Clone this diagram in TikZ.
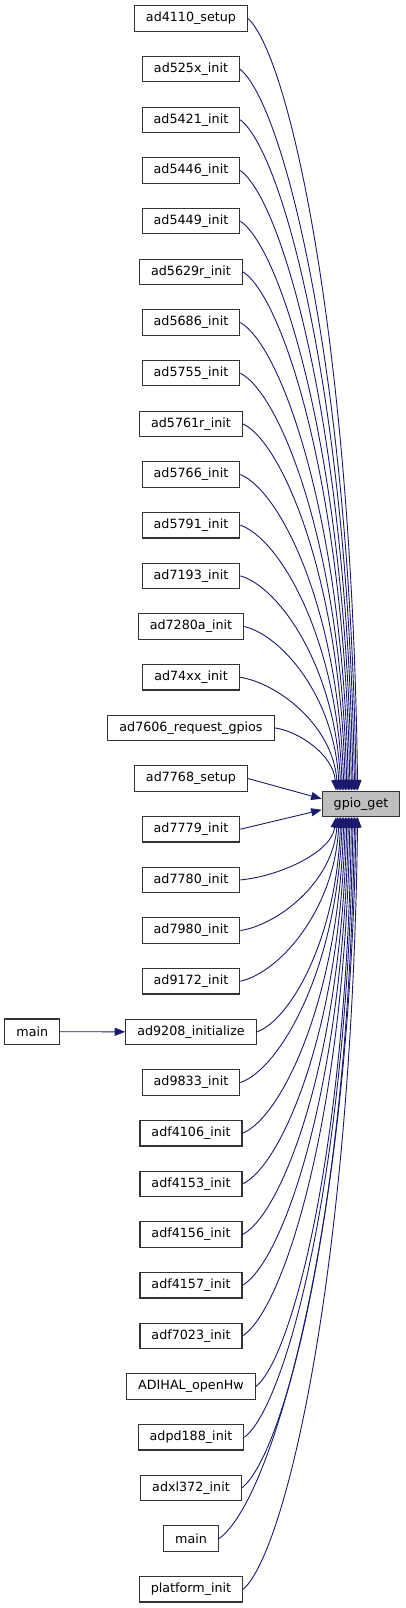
\documentclass[tikz,border=0pt]{standalone}
\usepackage{fontspec}
\setmainfont{DejaVu Sans}
\usetikzlibrary{arrows.meta,calc}
\definecolor{edgeblue}{HTML}{191970}
\definecolor{hl}{HTML}{BFBFBF}
\begin{document}
\begin{tikzpicture}[x=1pt,y=-1pt,
  fn/.style={draw=black!80, line width=1.1pt, fill=white, minimum height=25.5pt,
    inner xsep=11.5pt, inner ysep=0pt, font=\fontsize{12.7}{15}\selectfont},
  edge/.style={draw=edgeblue, line width=0.9pt, -{Triangle[length=10.5pt,width=8pt]}}]
\useasboundingbox (0,0) rectangle (405,1608);
\foreach \i/\t in {0/ad4110\_setup,1/ad525x\_init,2/ad5421\_init,3/ad5446\_init,
  4/ad5449\_init,5/ad5629r\_init,6/ad5686\_init,7/ad5755\_init,8/ad5761r\_init,
  9/ad5766\_init,10/ad5791\_init,11/ad7193\_init,12/ad7280a\_init,13/ad74xx\_init,
  14/ad7606\_request\_gpios,15/ad7768\_setup,16/ad7779\_init,17/ad7780\_init,
  18/ad7980\_init,19/ad9172\_init,20/ad9208\_initialize,21/ad9833\_init,
  22/adf4106\_init,23/adf4153\_init,24/adf4156\_init,25/adf4157\_init,
  26/adf7023\_init,27/ADIHAL\_openHw,28/adpd188\_init,29/adxl372\_init,
  30/main,31/platform\_init}
  \node[fn] (n\i) at (191,{18.5+\i*50.67}) {\t};
\node[fn, fill=hl] (g) at (361,803.8) {gpio\_get};
\node[fn] (m0) at (32.3,1031.7) {main};
\draw[edge] (m0) -- (n20);
\foreach \i in {0,...,14}{
  \pgfmathsetmacro\dd{15.5-\i}
  \pgfmathsetmacro\oo{16+(\dd-2.5)*20/13}
  \draw[edge] let \p1=(n\i.east), \p2=([xshift=\oo pt]g.north west) in
    (\p1) .. controls ({\x1+0.38*(\x2-\x1)},{\y1+0.05*(\y2-\y1)})
    and ({\x2-0.05*(\x2-\x1)},{\y1+0.42*(\y2-\y1)}) .. (\p2);
}
\foreach \i in {17,...,31}{
  \pgfmathsetmacro\dd{\i-15.5}
  \pgfmathsetmacro\oo{16+(\dd-2.5)*20/13}
  \draw[edge] let \p1=(n\i.east), \p2=([xshift=\oo pt]g.south west) in
    (\p1) .. controls ({\x1+0.38*(\x2-\x1)},{\y1+0.05*(\y2-\y1)})
    and ({\x2-0.05*(\x2-\x1)},{\y1+0.42*(\y2-\y1)}) .. (\p2);
}
\draw[edge] (n15.east) -- ([yshift=5pt]g.west);
\draw[edge] (n16.east) -- ([yshift=-6pt]g.west);
\end{tikzpicture}
\end{document}
